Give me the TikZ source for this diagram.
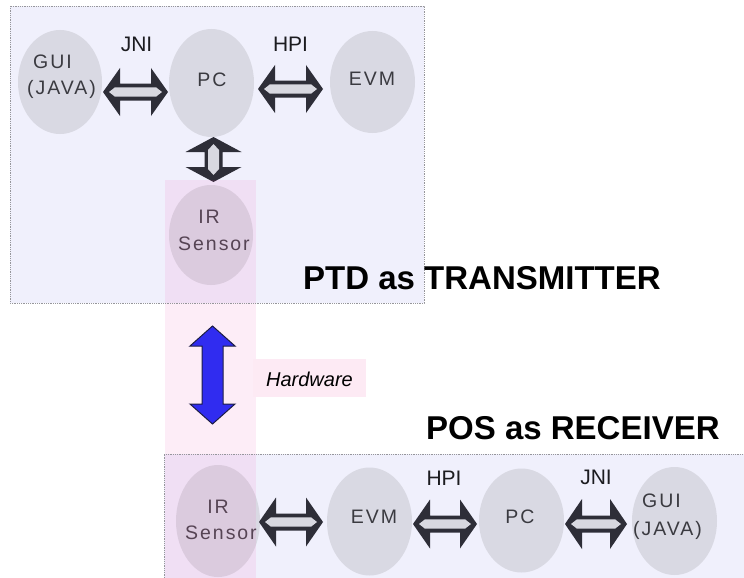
\documentclass[tikz,border=0pt]{standalone}
\usepackage{fontspec}
\setmainfont{Liberation Sans}
\newfontfamily\ellfont[LetterSpace=10]{Liberation Sans}
\usetikzlibrary{calc,shapes.geometric}
\definecolor{boxfill}{RGB}{240,240,252}
\definecolor{boxline}{RGB}{150,150,155}
\definecolor{ellfill}{RGB}{217,217,227}
\definecolor{pinkov}{RGB}{240,80,180}
\definecolor{hwfill}{RGB}{253,234,244}
\definecolor{arrdark}{RGB}{46,46,56}
\definecolor{arrlight}{RGB}{216,216,224}
\definecolor{bluearr}{RGB}{48,44,240}
\definecolor{bluedark}{RGB}{30,30,70}
\definecolor{etxtc}{RGB}{58,58,64}
\definecolor{irtxtc}{RGB}{86,68,84}
\definecolor{lblc}{RGB}{28,28,32}
\newcommand{\blockH}[6]{% A B headlen headhalf shafthalf style
  \path[#6] let \p1=(#1), \p2=(#2) in
  (\x1,\y1) -- (\x1+#3,\y1+#4) -- (\x1+#3,\y1+#5) -- (\x2-#3,\y1+#5) -- (\x2-#3,\y1+#4) -- (\x2,\y1)
  -- (\x2-#3,\y1-#4) -- (\x2-#3,\y1-#5) -- (\x1+#3,\y1-#5) -- (\x1+#3,\y1-#4) -- cycle;}
\newcommand{\innerH}[5]{% A B point shoulder half
  \fill[arrlight] let \p1=(#1), \p2=(#2) in
  (\x1+#3,\y1) -- (\x1+#4,\y1+#5) -- (\x2-#4,\y1+#5) -- (\x2-#3,\y1) -- (\x2-#4,\y1-#5) -- (\x1+#4,\y1-#5) -- cycle;}
\newcommand{\blockV}[6]{% A(top) B(bottom) headlen headhalf shafthalf style
  \path[#6] let \p1=(#1), \p2=(#2) in
  (\x1,\y1) -- (\x1+#4,\y1-#3) -- (\x1+#5,\y1-#3) -- (\x1+#5,\y2+#3) -- (\x1+#4,\y2+#3) -- (\x1,\y2)
  -- (\x1-#4,\y2+#3) -- (\x1-#5,\y2+#3) -- (\x1-#5,\y1-#3) -- (\x1-#4,\y1-#3) -- cycle;}
\newcommand{\innerV}[5]{%
  \fill[arrlight] let \p1=(#1), \p2=(#2) in
  (\x1,\y1-#3) -- (\x1+#5,\y1-#4) -- (\x1+#5,\y2+#4) -- (\x1,\y2+#3) -- (\x1-#5,\y2+#4) -- (\x1-#5,\y1-#4) -- cycle;}
\begin{document}
\begin{tikzpicture}[x=1pt,y=-1pt,
  ell/.style={ellipse, fill=ellfill, draw=none, inner sep=0pt},
  etxt/.style={font=\ellfont\fontsize{19.5}{23}\selectfont, text=etxtc, inner sep=0pt, anchor=base},
  irtxt/.style={etxt, text=irtxtc},
  lbl/.style={font=\fontsize{21}{24}\selectfont, text=lblc, inner sep=0pt, anchor=base},
  titletxt/.style={font=\bfseries\fontsize{33}{38}\selectfont, text=black, inner sep=0pt, anchor=base west},
  boxborder/.style={draw=boxline, densely dotted, line width=0.8pt}
]
\useasboundingbox (0,0) rectangle (744,578);
\fill[white] (0,0) rectangle (744,578);
% panels
\fill[boxfill] (10,6) rectangle (424,303);
\fill[boxfill] (164,454) rectangle (744,578);
% top ellipses
\node[ell, minimum width=84pt, minimum height=104pt] (gui1) at (60,82) {};
\node[ell, minimum width=85pt, minimum height=108pt] (pc1) at (211.5,83) {};
\node[ell, minimum width=85pt, minimum height=102pt] (evm1) at (372.5,82) {};
\node[ell, minimum width=84pt, minimum height=100pt] (ir1) at (211,235) {};
% bottom ellipses
\node[ell, minimum width=84pt, minimum height=112pt] (ir2) at (218,521) {};
\node[ell, minimum width=85pt, minimum height=108pt] (evm2) at (369.5,521.5) {};
\node[ell, minimum width=85pt, minimum height=104pt] (pc2) at (521.5,520.5) {};
\node[ell, minimum width=85pt, minimum height=108pt] (gui2) at (674.5,521) {};
% arrow end points
\coordinate (j1a) at (103,92);   \coordinate (j1b) at (168,92);
\coordinate (h1a) at (258,89);   \coordinate (h1b) at (323,89);
\coordinate (v1a) at (213.5,137); \coordinate (v1b) at (213.5,182);
\coordinate (b1a) at (212.5,326); \coordinate (b1b) at (212.5,424);
\coordinate (s2a) at (259,522);  \coordinate (s2b) at (323,522);
\coordinate (h2a) at (413,524);  \coordinate (h2b) at (477,524);
\coordinate (j2a) at (565,524);  \coordinate (j2b) at (627,524);
% grey double arrows
\blockH{j1a}{j1b}{17pt}{24pt}{8.5pt}{fill=arrdark}
\innerH{j1a}{j1b}{6pt}{12pt}{4.7pt}
\blockH{h1a}{h1b}{17pt}{24pt}{8.5pt}{fill=arrdark}
\innerH{h1a}{h1b}{6pt}{12pt}{4.7pt}
\blockV{v1a}{v1b}{15pt}{28pt}{9pt}{fill=arrdark}
\innerV{v1a}{v1b}{7pt}{13pt}{5.5pt}
\blockH{s2a}{s2b}{17pt}{24.5pt}{8.5pt}{fill=arrdark}
\innerH{s2a}{s2b}{6pt}{12pt}{4.7pt}
\blockH{h2a}{h2b}{17pt}{24.5pt}{8.5pt}{fill=arrdark}
\innerH{h2a}{h2b}{6pt}{12pt}{4.7pt}
\blockH{j2a}{j2b}{17pt}{25pt}{8.5pt}{fill=arrdark}
\innerH{j2a}{j2b}{6pt}{12pt}{4.7pt}
% pink hardware column
\fill[pinkov, opacity=0.1] (165,180) rectangle (256,578);
\fill[hwfill] (253,359) rectangle (366,397);
% borders
\draw[boxborder] (10,6) rectangle (424,303);
\draw[boxborder] (164,578) -- (164,454) -- (744,454);
% blue hardware arrow
\blockV{b1a}{b1b}{20pt}{22.5pt}{10.5pt}{fill=bluearr, draw=bluedark, line width=1pt, line join=miter}
% texts in ellipses
\node[etxt, anchor=base west] (t_gui1a) at (33,68) {GUI};
\node[etxt, anchor=base west] (t_gui1b) at (27,94) {(JAVA)};
\node[etxt] (t_pc1) at (212,86.5) {PC};
\node[etxt] (t_evm1) at (372,85) {EVM};
\node[irtxt] (t_ir1a) at (209,223) {IR};
\node[irtxt] (t_ir1b) at (214,250) {Sensor};
\node[irtxt] (t_ir2a) at (218,513) {IR};
\node[irtxt] (t_ir2b) at (221,539) {Sensor};
\node[etxt] (t_evm2) at (374,523) {EVM};
\node[etxt] (t_pc2) at (520,523) {PC};
\node[etxt, anchor=base west] (t_gui2a) at (642,507) {GUI};
\node[etxt, anchor=base west] (t_gui2b) at (633,535) {(JAVA)};
% interface labels
\node[lbl] (l_jni1) at (136.5,52) {JNI};
\node[lbl] (l_hpi1) at (290.5,52) {HPI};
\node[lbl] (l_hpi2) at (444,485) {HPI};
\node[lbl] (l_jni2) at (596,484) {JNI};
\node[font=\itshape\fontsize{20}{24}\selectfont, inner sep=0pt, anchor=base] (l_hw) at (309.5,386) {Hardware};
% titles
\node[titletxt] (ttx) at (303,289) {PTD as TRANSMITTER};
\node[titletxt] (trx) at (426,439) {POS as RECEIVER};
\end{tikzpicture}
\end{document}
